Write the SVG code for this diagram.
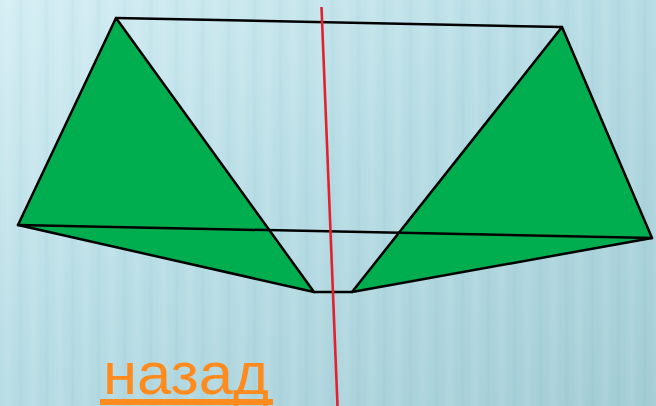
<svg xmlns="http://www.w3.org/2000/svg" width="656" height="406" viewBox="0 0 656 406">
  <defs>
    <linearGradient id="bg" x1="0" y1="0" x2="1" y2="1">
      <stop offset="0" stop-color="#d4eef4"/>
      <stop offset="0.45" stop-color="#b8dde5"/>
      <stop offset="1" stop-color="#a2ccd5"/>
    </linearGradient>
    <linearGradient id="stripe" x1="0" y1="0" x2="1" y2="0">
      <stop offset="0" stop-color="#ffffff" stop-opacity="0"/>
      <stop offset="0.3" stop-color="#ffffff" stop-opacity="0.1"/>
      <stop offset="0.55" stop-color="#ffffff" stop-opacity="0"/>
      <stop offset="0.8" stop-color="#5a9aa8" stop-opacity="0.07"/>
      <stop offset="1" stop-color="#ffffff" stop-opacity="0"/>
    </linearGradient>
    <pattern id="stripes" x="0" y="0" width="26" height="406" patternUnits="userSpaceOnUse">
      <rect width="26" height="406" fill="url(#stripe)"/>
    </pattern>
    <style>
      .tri { fill: #00ae4f; stroke: #000; stroke-width: 2.5; stroke-linejoin: round; }
      .edge { fill: none; stroke: #000; stroke-width: 2.5; stroke-linecap: round; }
      .axis { stroke: #e3202e; stroke-width: 2.6; }
      .label { font-family: "Liberation Sans", Arial, sans-serif; font-size: 60px; fill: #ff8a1d; }
    </style>
  </defs>
  <rect width="656" height="406" fill="url(#bg)"/>
  <rect width="656" height="406" fill="url(#stripes)"/>

  <g id="left-triangle">
    <polygon class="tri" points="116,18 18,225 314,292"/>
  </g>
  <g id="right-triangle">
    <polygon class="tri" points="562,27 652,238 352,292"/>
  </g>
  <g id="connectors">
    <line class="edge" x1="116" y1="18" x2="562" y2="27"/>
    <line class="edge" x1="18" y1="225" x2="652" y2="238"/>
    <line class="edge" x1="314" y1="292" x2="352" y2="292"/>
  </g>
  <g id="axis">
    <line class="axis" x1="321.5" y1="7" x2="337.5" y2="406"/>
  </g>
  <g id="back-link">
    <text class="label" x="103" y="394" textLength="166" lengthAdjust="spacingAndGlyphs">назад</text>
    <rect x="100" y="399" width="173" height="6" fill="#ff8a1d"/>
  </g>
</svg>
